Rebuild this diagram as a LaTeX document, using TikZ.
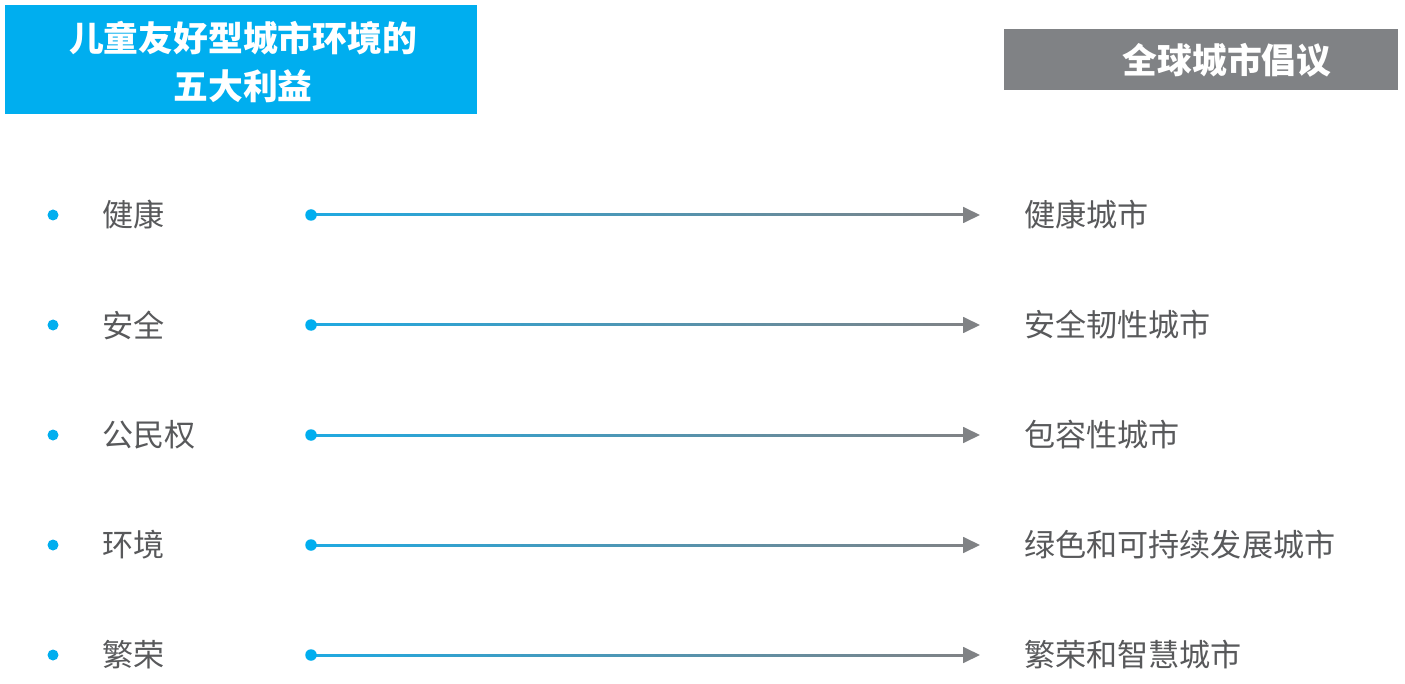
\documentclass[tikz,border=0pt]{standalone}
\usepackage{fontspec}
\setmainfont{Noto Sans CJK SC}
\usetikzlibrary{arrows.meta}
\definecolor{hdblue}{HTML}{00AEEF}
\definecolor{hdgray}{HTML}{808285}
\definecolor{txtgray}{HTML}{58595B}
\definecolor{lnblue}{HTML}{1FA9E1}

\begin{document}
\begin{tikzpicture}[x=0.2mm, y=-0.2mm,
  every node/.style={inner sep=0pt, font=\fontsize{17.7}{20}\selectfont, text=txtgray},
  hdtext/.style={text=white, font=\bfseries\fontsize{19.8}{27}\selectfont, align=center},
  dotmark/.style={circle, fill=hdblue, minimum size=2.2mm},
  conn/.style={draw=hdgray, line width=1pt, -{Triangle[length=3.4mm, width=3.2mm]}}]
\useasboundingbox (0,0) rectangle (1405,684);
%Headers
\fill[hdblue] (5,5) rectangle (477,114);
\node[hdtext] (lhead) at (243,62) {儿童友好型城市环境的\\五大利益};
\fill[hdgray] (1004,29) rectangle (1398,90);
\node[hdtext] (rhead) at (1227,60) {全球城市倡议};
% Rows: benefit -> initiative
\foreach \y/\ben/\ini [count=\i] in {215/健康/健康城市, 325/安全/安全韧性城市, 435/公民权/包容性城市,
                                    545/环境/绿色和可持续发展城市, 655/繁荣/繁荣和智慧城市}{
  \node[dotmark] (b\i) at (53,\y) {};
  \node[anchor=west] (l\i) at (102,\y) {\ben};
  \node[anchor=west] (r\i) at (1024,\y) {\ini};
  \coordinate (e\i) at (980,\y);
  \draw[conn] (311,\y) -- (e\i);                                            % gray stem and tip
  \shade[left color=lnblue, right color=hdgray] (311,\y-1) rectangle (964,\y+1); % blue-to-gray stem
  \node[dotmark, minimum size=2.3mm] (d\i) at (311,\y) {};
}
\end{tikzpicture}
\end{document}
